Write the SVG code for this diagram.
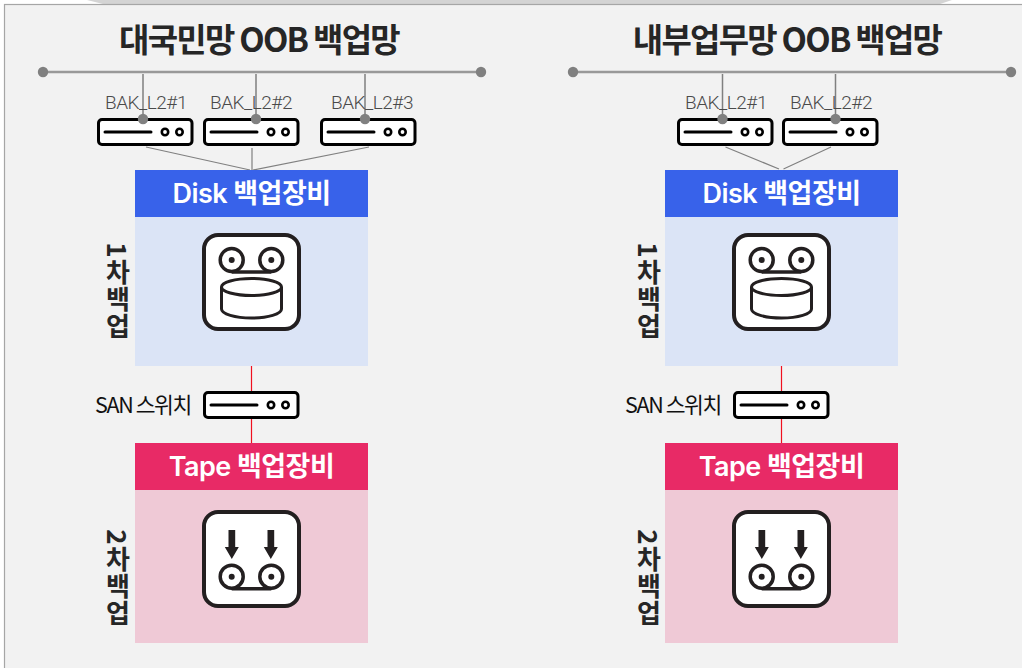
<svg xmlns="http://www.w3.org/2000/svg" xmlns:xlink="http://www.w3.org/1999/xlink" width="1022" height="668" viewBox="0 0 1022 668">
<style>
text{font-family:"Noto Sans CJK KR","Noto Sans",sans-serif}
.title{font-size:33px;font-weight:700;fill:#262626;letter-spacing:-1.75px;text-anchor:middle}
.head{font-family:"Inter","Noto Sans CJK KR",sans-serif;font-size:27px;font-weight:600;fill:#fff;text-anchor:middle;letter-spacing:-.55px}
.bak{font-family:"Roboto","Noto Sans CJK KR",sans-serif;font-size:19px;font-weight:300;fill:#4a4a4a;letter-spacing:-.5px;text-anchor:middle}
.san{font-size:21.5px;font-weight:400;fill:#111;letter-spacing:-1.4px;text-anchor:middle}
.side{font-size:26px;font-weight:700;fill:#262626;writing-mode:vertical-rl;text-anchor:middle;letter-spacing:1px}
.hub{stroke:#999;stroke-width:2.5;fill:none}
.drop{stroke:#808080;stroke-width:1.5;fill:none}
.fan{stroke:#808080;stroke-width:1.2;fill:none}
.red{stroke:#f0101f;stroke-width:1.2;fill:none}
.dot{fill:#808080}
.ic{fill:none;stroke:#231f20;stroke-width:3.5}
</style>
<defs>
<g id="server">
<rect x="1.5" y="1.5" width="93.5" height="25" rx="3.5" fill="#fff" stroke="#000" stroke-width="3"/>
<path d="M8 14H54" stroke="#000" stroke-width="3" stroke-linecap="round"/>
<circle cx="68" cy="14" r="3.2" fill="#fff" stroke="#000" stroke-width="2.6"/>
<circle cx="82.5" cy="14" r="3.2" fill="#fff" stroke="#000" stroke-width="2.6"/>
</g>
<g id="reels">
<circle cx="-19.8" cy="0" r="11.5" class="ic"/>
<circle cx="19.8" cy="0" r="11.5" class="ic"/>
<circle cx="-19.8" cy="0" r="3" fill="#231f20"/>
<circle cx="19.8" cy="0" r="3" fill="#231f20"/>
<path d="M-19.8 12H19.800" class="ic"/>
</g>
<g id="diskIcon">
<rect x="2" y="2" width="95" height="94" rx="14" fill="#fff" stroke="#231f20" stroke-width="4"/>
<use xlink:href="#reels" href="#reels" transform="translate(49.5,27)"/>
<path d="M19.500 54V76C19.500 81 33 85 49.500 85S79.500 81 79.500 76V54" class="ic" style="stroke-width:3"/>
<ellipse cx="49.500" cy="54" rx="30" ry="8.500" class="ic" style="stroke-width:3"/>
</g>
<g id="tapeIcon">
<rect x="2" y="2" width="95" height="94" rx="14" fill="#fff" stroke="#231f20" stroke-width="4"/>
<path d="M26.500 20H33.200V37H36.800L29.800 49L22.800 37H26.500Z" fill="#231f20"/>
<path d="M65.500 20H72.200V37H75.800L68.800 49L61.800 37H65.500Z" fill="#231f20"/>
<use xlink:href="#reels" href="#reels" transform="translate(49.500,66.700)"/>
</g>
</defs>
<rect width="1022" height="668" fill="#fff"/>
<path d="M87 0L103 4H940L952 0Z" fill="#d4d4d4"/>
<rect x="4.500" y="4.500" width="1030" height="680" fill="#f2f2f2" stroke="#a6a6a6" stroke-width="1.200"/>

<g id="connectors">
<path class="hub" d="M43 72H481M573 72H1011"/>
<circle class="dot" cx="43" cy="72" r="5.200"/><circle class="dot" cx="481" cy="72" r="5.200"/>
<circle class="dot" cx="573" cy="72" r="5.200"/><circle class="dot" cx="1011" cy="72" r="5.200"/>
<path class="drop" d="M143 74V119M256 74V119M365 74V119M722.500 74V119M835.500 74V119"/>
<path class="fan" d="M146 147L250 170M252 148V170M369 147L253 170M725.500 147L779 169M831 147L783.500 169"/>
<path class="red" d="M251.500 366V391M251.500 418V443M781.500 366V391M781.500 418V443"/>
</g>

<g id="title-left"><text class="title" x="259" y="52">대국민망 OOB 백업망</text></g>
<g id="title-right"><text class="title" x="787" y="52">내부업무망 OOB 백업망</text></g>

<g id="bak-left-1"><use xlink:href="#server" href="#server" x="97" y="118"/><text class="bak" x="146" y="109">BAK_L2#1</text></g>
<g id="bak-left-2"><use xlink:href="#server" href="#server" x="203" y="118"/><text class="bak" x="251" y="109">BAK_L2#2</text></g>
<g id="bak-left-3"><use xlink:href="#server" href="#server" x="320" y="118"/><text class="bak" x="372" y="109">BAK_L2#3</text></g>
<g id="bak-right-1"><use xlink:href="#server" href="#server" x="677" y="118"/><text class="bak" x="726" y="109">BAK_L2#1</text></g>
<g id="bak-right-2"><use xlink:href="#server" href="#server" x="782" y="118"/><text class="bak" x="831" y="109">BAK_L2#2</text></g>
<g id="link-dots">
<circle class="dot" cx="143" cy="119" r="5.200"/><circle class="dot" cx="256" cy="119" r="5.200"/><circle class="dot" cx="365" cy="119" r="5.200"/><circle class="dot" cx="722.500" cy="119" r="5.200"/><circle class="dot" cx="835.500" cy="119" r="5.200"/>
</g>

<g id="disk-left">
<rect x="135" y="217" width="233" height="149" fill="#dbe4f6"/>
<rect x="135" y="170" width="233" height="47" fill="#3862ea"/>
<text class="head" x="251.500" y="203">Disk 백업장비</text>
<use xlink:href="#diskIcon" href="#diskIcon" x="202" y="233"/>
<text class="side" x="118" y="291">1차백업</text>
</g>
<g id="disk-right">
<rect x="665" y="217" width="233" height="149" fill="#dbe4f6"/>
<rect x="665" y="170" width="233" height="47" fill="#3862ea"/>
<text class="head" x="781.500" y="203">Disk 백업장비</text>
<use xlink:href="#diskIcon" href="#diskIcon" x="732" y="233"/>
<text class="side" x="649" y="291">1차백업</text>
</g>

<g id="san-left"><use xlink:href="#server" href="#server" x="203" y="391"/><text class="san" x="143" y="413">SAN 스위치</text></g>
<g id="san-right"><use xlink:href="#server" href="#server" x="733" y="391"/><text class="san" x="673" y="413">SAN 스위치</text></g>

<g id="tape-left">
<rect x="135" y="490" width="233" height="153" fill="#efc9d6"/>
<rect x="135" y="443" width="233" height="47" fill="#e82a66"/>
<text class="head" x="251.500" y="476">Tape 백업장비</text>
<use xlink:href="#tapeIcon" href="#tapeIcon" x="202" y="510"/>
<text class="side" x="118" y="578">2차백업</text>
</g>
<g id="tape-right">
<rect x="665" y="490" width="233" height="153" fill="#efc9d6"/>
<rect x="665" y="443" width="233" height="47" fill="#e82a66"/>
<text class="head" x="781.500" y="476">Tape 백업장비</text>
<use xlink:href="#tapeIcon" href="#tapeIcon" x="732" y="510"/>
<text class="side" x="649" y="578">2차백업</text>
</g>
</svg>
